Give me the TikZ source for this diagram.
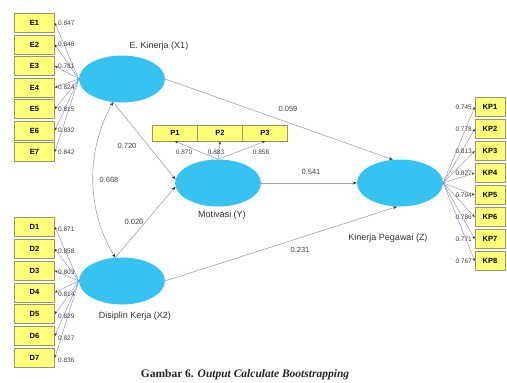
\documentclass[tikz,border=0pt]{standalone}
\usepackage{fontspec}
\setmainfont{Liberation Sans}
\newfontfamily\capfont{Liberation Serif}
\usetikzlibrary{shapes.geometric,arrows.meta}
\definecolor{lvfill}{RGB}{55,195,242}
\definecolor{mvfill}{RGB}{255,255,120}
\definecolor{mvdraw}{RGB}{150,150,110}
\definecolor{ldline}{RGB}{140,130,190}
\definecolor{stline}{RGB}{180,155,155}
\begin{document}
\begin{tikzpicture}[x=1pt,y=-1pt,
  latent/.style={ellipse,fill=lvfill,draw=none,minimum width=86pt,minimum height=47pt,inner sep=0pt},
  manifest/.style={rectangle,fill=mvfill,draw=mvdraw,line width=0.6pt,minimum width=40pt,minimum height=19pt,inner sep=0pt,font=\fontsize{7.5}{8}\selectfont\bfseries},
  kpbox/.style={manifest,minimum width=30pt},
  pbox/.style={manifest,minimum width=45pt,minimum height=16pt},
  loadline/.style={draw=ldline,line width=0.4pt,-{Stealth[length=3pt,width=2.5pt,color=black!80]}},
  pathline/.style={draw=stline,line width=0.6pt,-{Stealth[length=4pt,width=3pt,color=black!80]}},
  corrline/.style={draw=stline,line width=0.6pt,{Stealth[length=4pt,width=3pt,color=black!80]}-{Stealth[length=4pt,width=3pt,color=black!80]}},
  coef/.style={font=\fontsize{7.5}{8}\selectfont,text=black!75,inner sep=0pt},
  load/.style={font=\fontsize{6.5}{7}\selectfont,text=black!75,inner sep=0pt},
  lvlabel/.style={font=\fontsize{9}{10}\selectfont,text=black!80,inner sep=0pt}]
\fill[white] (0,0) rectangle (507,383);
\useasboundingbox (0,0) rectangle (507,383);

% latent variables
\node[latent] (X1) at (122,79) {};
\node[latent] (X2) at (122,281) {};
\node[latent] (Y) at (218,183) {};
\node[latent] (Z) at (400,183) {};

% construct labels
\node[lvlabel] (lX1) at (159,46) {E. Kinerja (X1)};
\node[lvlabel] (lY) at (222,215) {Motivasi (Y)};
\node[lvlabel] (lZ) at (388,238) {Kinerja Pegawai (Z)};
\node[lvlabel] (lX2) at (135,316) {Disiplin Kerja (X2)};

% indicator boxes
\foreach \i in {1,...,7}{
  \node[manifest] (E\i) at (34.5,{23+(\i-1)*21.5}) {E\i};
  \node[manifest] (D\i) at (34.5,{227+(\i-1)*21.8}) {D\i};
}
\foreach \i in {1,...,8}{
  \node[kpbox] (KP\i) at (490,{107+(\i-1)*22}) {KP\i};
}
\node[pbox] (P1) at (175,133) {P1};
\node[pbox] (P2) at (220,133) {P2};
\node[pbox] (P3) at (265,133) {P3};

% loading lines
\foreach \i in {1,...,7}{
  \draw[loadline] (X1.west) -- (E\i.east);
  \draw[loadline] (X2.west) -- (D\i.east);
}
\foreach \i in {1,...,8}{
  \draw[loadline] (Z.east) -- (KP\i.west);
}
\foreach \i in {1,2,3}{
  \draw[loadline] (Y.north) -- (P\i.south);
}

% loading values
\foreach \i/\v in {1/0.847,2/0.848,3/0.781,4/0.824,5/0.815,6/0.832,7/0.842}{
  \node[load,anchor=west] (le\i) at (58,{23+(\i-1)*21.5}) {\v};
}
\foreach \i/\v in {1/0.871,2/0.858,3/0.803,4/0.814,5/0.829,6/0.827,7/0.836}{
  \node[load,anchor=west] (ld\i) at (58,{227+(\i-1)*21.8+2}) {\v};
}
\foreach \i/\v in {1/0.745,2/0.778,3/0.813,4/0.827,5/0.794,6/0.786,7/0.771,8/0.767}{
  \node[load,anchor=east] (lk\i) at (472,{107+(\i-1)*22}) {\v};
}
\node[load] (lp1) at (184,152) {0.870};
\node[load] (lp2) at (216,152) {0.883};
\node[load] (lp3) at (261,152) {0.858};

% structural paths
\draw[pathline] (X1.249) -- (Y.175);
\draw[pathline] (X2.106) -- (Y.185);
\draw[pathline] (X1.0) -- (Z.107);
\draw[pathline] (X2.0) -- (Z.263);
\draw[pathline] (Y.0) -- (Z.180);
\draw[corrline] (X1.249) .. controls (86,150) and (86,210) .. (X2.106);

% path coefficients
\node[coef] (c1) at (288,109) {0.059};
\node[coef] (c2) at (127,146) {0.720};
\node[coef] (c3) at (109,180) {0.668};
\node[coef] (c4) at (311,172) {0.541};
\node[coef] (c5) at (134,222) {0.026};
\node[coef] (c6) at (300,250) {0.231};

% caption
\node[font=\capfont\fontsize{11.5}{12}\selectfont\bfseries,inner sep=0pt,text=black!85] (cap) at (245,375) {Gambar 6. \textit{Output Calculate Bootstrapping}};
\end{tikzpicture}
\end{document}
